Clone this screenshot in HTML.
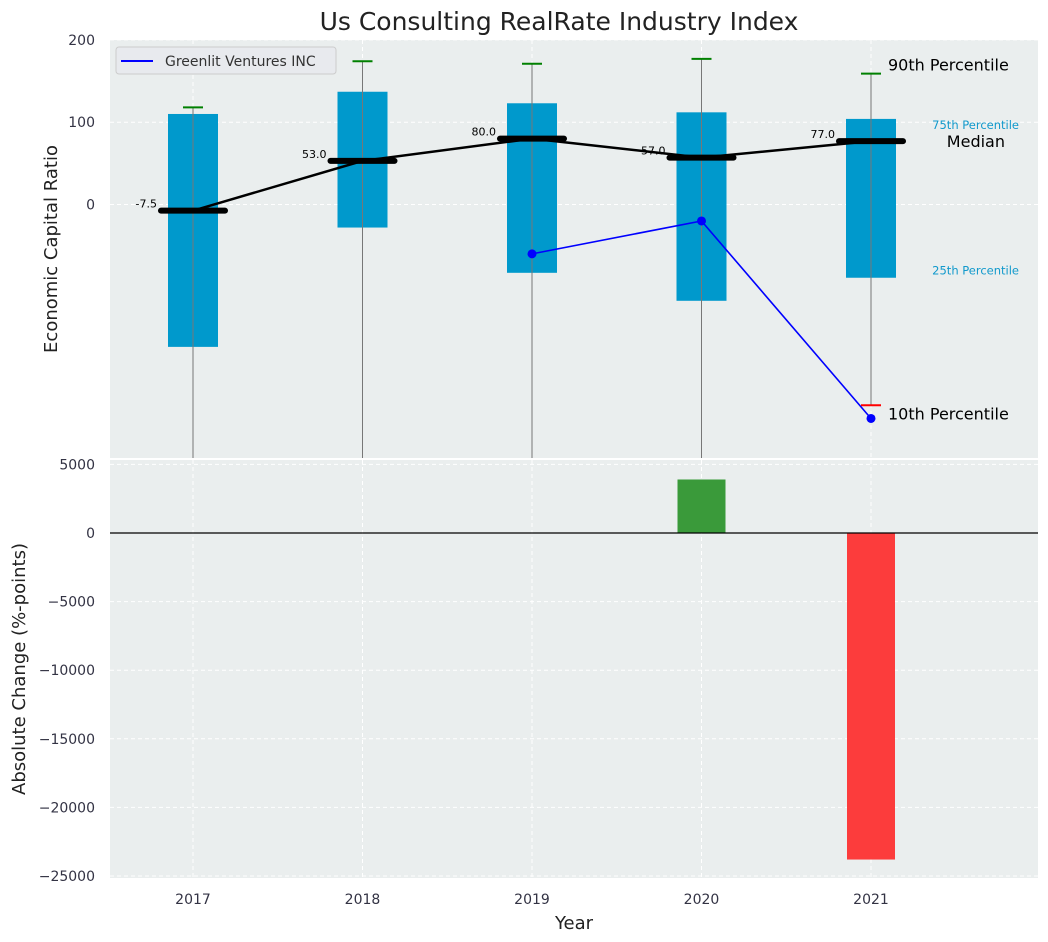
<!DOCTYPE html>
<html><head><meta charset="utf-8"><style>
body{margin:0;background:#fff;}
svg{display:block;font-family:"DejaVu Sans","Liberation Sans",sans-serif;}
</style></head><body>
<svg id="chart" width="1048" height="942" viewBox="0 0 1048 942" xmlns="http://www.w3.org/2000/svg">
<rect width="1048" height="942" fill="#fff"/>
<text x="559" y="30" font-size="25" text-anchor="middle" fill="#222">Us Consulting RealRate Industry Index</text>
<rect x="110" y="40" width="928" height="418" fill="#eaeeee"/>
<rect x="110" y="460" width="928" height="418" fill="#eaeeee"/>
<g id="gtop"></g>
<g id="gbot"></g>
<text transform="translate(57,249) rotate(-90)" font-size="18" text-anchor="middle" fill="#222">Economic Capital Ratio</text>
<text transform="translate(25,669) rotate(-90)" font-size="18" text-anchor="middle" fill="#222">Absolute Change (%-points)</text>
<text x="574" y="929" font-size="18" text-anchor="middle" fill="#222">Year</text>
<g>
<rect x="116" y="47" width="220" height="27" rx="3" fill="#e8eaee" stroke="#ccc"/>
<line x1="121" y1="61" x2="153" y2="61" stroke="blue" stroke-width="2"/>
<text x="165" y="66" font-size="14" fill="#333">Greenlit Ventures INC</text>
</g>
</svg>
<script>
const years=["2017","2018","2019","2020","2021"];
const p10=[-400,-400,-400,-400,-244];
const p25=[-173,-28,-83,-117,-89];
const p75=[110,137,123,112,104];
const p90=[118,174,171,177,159];
const medians=[-7.5,53,80,57,77];
const companyYears=[2,3,4];
const companyValues=[-60,-20,-260];
const changes=[0,0,0,3900,-23800];
const topTicks=[200,100,0];
const bottomTicks=[5000,0,-5000,-10000,-15000,-20000,-25000];

const NS="http://www.w3.org/2000/svg";
const X=i=>193+169.5*i;
const YT=v=>204.5-0.823*v;
const YB=v=>533-v*68.6/5000;
function mk(parent,tag,attrs,txt){const e=document.createElementNS(NS,tag);for(const k in attrs)e.setAttribute(k,attrs[k]);if(txt!==undefined)e.textContent=txt;parent.appendChild(e);return e;}
const gTop=document.getElementById('gtop'),gBot=document.getElementById('gbot');
const clipTop=v=>Math.min(458,Math.max(40,v));

years.forEach((y,i)=>{
  let g=mk(gTop,'line',{x1:X(i),x2:X(i),y1:40,y2:458,stroke:'#fff','stroke-dasharray':'4,3','stroke-width':1});
  
  
  g=mk(gBot,'line',{x1:X(i),x2:X(i),y1:460,y2:878,stroke:'#fff','stroke-dasharray':'4,3','stroke-width':1});
  
  
  const t=mk(gBot,'text',{x:X(i),y:904,'font-size':14,'text-anchor':'middle',fill:'#334'},y);
  
  
});
topTicks.forEach(v=>{
  const g=mk(gTop,'line',{x1:110,x2:1038,y1:YT(v),y2:YT(v),stroke:'#fff','stroke-dasharray':'4,3'});
  
  
  const t=mk(gTop,'text',{x:95,y:YT(v)+5,'font-size':14,'text-anchor':'end',fill:'#334'},String(v));
  
  
});
bottomTicks.forEach(v=>{
  const g=mk(gBot,'line',{x1:110,x2:1038,y1:YB(v),y2:YB(v),stroke:'#fff','stroke-dasharray':'4,3'});
  
  
  const t=mk(gBot,'text',{x:95,y:YB(v)+5,'font-size':14,'text-anchor':'end',fill:'#334'},String(v).replace('-','\u2212'));
  
  
});

years.forEach((y,i)=>{
  const b=mk(gTop,'rect',{x:X(i)-25,y:YT(p75[i]),width:50,height:YT(p25[i])-YT(p75[i]),fill:'#0099cc'});
  
  
  const w=mk(gTop,'line',{x1:X(i),x2:X(i),y1:clipTop(YT(p90[i])),y2:clipTop(YT(p10[i])),stroke:'#777','stroke-width':1});
  
  
  const c=mk(gTop,'line',{x1:X(i)-10,x2:X(i)+10,y1:YT(p90[i]),y2:YT(p90[i]),stroke:'green','stroke-width':2});
  
  
  if(YT(p10[i])<458){
    const r=mk(gTop,'line',{x1:X(i)-10,x2:X(i)+10,y1:YT(p10[i]),y2:YT(p10[i]),stroke:'red','stroke-width':2});
    
    
  }
});
const ml=mk(gTop,'polyline',{points:medians.map((m,i)=>X(i)+','+YT(m)).join(' '),fill:'none',stroke:'#000','stroke-width':2.5});


medians.forEach((m,i)=>{
  const s=mk(gTop,'line',{x1:X(i)-32,x2:X(i)+32,y1:YT(m),y2:YT(m),stroke:'#000','stroke-width':6,'stroke-linecap':'round'});
  
  
  const t=mk(gTop,'text',{x:X(i)-36,y:YT(m)-3,'font-size':11,'text-anchor':'end',fill:'#000'},m.toFixed(1));
  
  
});
const cl=mk(gTop,'polyline',{points:companyYears.map((k,j)=>X(k)+','+YT(companyValues[j])).join(' '),fill:'none',stroke:'blue','stroke-width':1.6});


companyYears.forEach((k,j)=>{
  const d=mk(gTop,'circle',{cx:X(k),cy:YT(companyValues[j]),r:4.5,fill:'blue'});
  
  
});
const L=4;
[[ 'p90-annotation',X(L)+17,YT(p90[L])-3,'90th Percentile',16,'#000','start'],
 ['p75-annotation',1019,YT(p75[L])+10,'75th Percentile',11.5,'#1199cc','end'],
 ['median-annotation',1005,YT(medians[L])+6,'Median',16,'#000','end'],
 ['p25-annotation',1019,YT(p25[L])-3,'25th Percentile',11.5,'#1199cc','end'],
 ['p10-annotation',X(L)+17,YT(p10[L])+14,'10th Percentile',16,'#000','start']].forEach(a=>{
  const t=mk(gTop,'text',{x:a[1],y:a[2],'font-size':a[4],fill:a[5],'text-anchor':a[6]},a[3]);
  
  
});
changes.forEach((v,i)=>{
  if(v===0)return;
  const y0=YB(Math.max(v,0)),y1=YB(Math.min(v,0));
  const b=mk(gBot,'rect',{x:X(i)-24,y:y0,width:48,height:y1-y0,fill:v>0?'#3a9a3a':'#fc3c3c'});
  
  
});
const z=mk(gBot,'line',{x1:110,x2:1038,y1:YB(0),y2:YB(0),stroke:'#000','stroke-width':1.2});


</script>
</body></html>
